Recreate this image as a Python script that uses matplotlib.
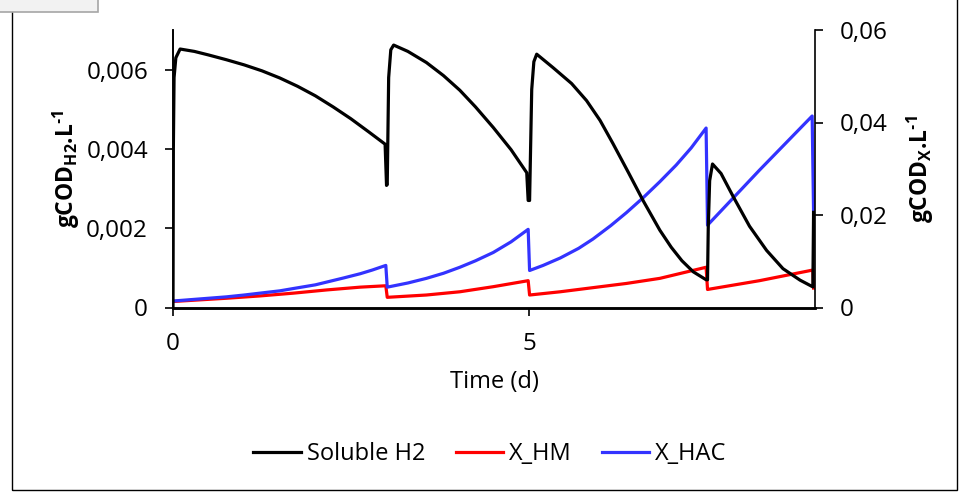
import matplotlib
matplotlib.use('Agg')
import matplotlib.pyplot as plt
import matplotlib.patches as patches

plt.rcParams['font.family'] = 'Open Sans'
plt.rcParams['mathtext.fontset'] = 'custom'
plt.rcParams['mathtext.rm'] = 'Open Sans'
plt.rcParams['mathtext.bf'] = 'Open Sans:bold'

# Soluble H2 (left axis)
t_h2 = [0.0, 0.005, 0.015, 0.04, 0.1, 0.3, 0.5, 0.75, 1.0, 1.25, 1.5, 1.75, 2.0, 2.25, 2.5, 2.75, 2.98,
        3.0, 3.01, 3.03, 3.06, 3.1, 3.3, 3.56, 3.8, 4.03, 4.25, 4.5, 4.75, 4.97,
        4.99, 5.01, 5.04, 5.07, 5.11, 5.34, 5.6, 5.81, 6.0, 6.18, 6.4, 6.61, 6.84, 7.0, 7.15, 7.31, 7.49,
        7.51, 7.52, 7.54, 7.58, 7.7, 7.87, 8.1, 8.34, 8.57, 8.81, 8.99, 9.0]
h2 = [0.0, 0.0040, 0.0058, 0.0063, 0.00652, 0.00646, 0.00637, 0.00625, 0.00612, 0.00597, 0.00579, 0.00558,
      0.00534, 0.00506, 0.00476, 0.00443, 0.00412,
      0.00308, 0.0031, 0.0058, 0.0065, 0.00662, 0.00646, 0.00618, 0.00585, 0.00548, 0.00506, 0.00454,
      0.00398, 0.00340,
      0.0027, 0.0027, 0.0055, 0.0062, 0.00639, 0.00605, 0.00565, 0.00522, 0.00472, 0.00414, 0.0034,
      0.00268, 0.00195, 0.00152, 0.00118, 0.0009, 0.0007,
      0.0007, 0.0020, 0.0032, 0.00362, 0.00338, 0.0028, 0.00205, 0.00144, 0.00098, 0.00069, 0.00052, 0.0024]

# X_HM (right axis)
t_hm = [0.0, 0.75, 1.22, 1.69, 2.16, 2.63, 2.99, 3.01, 3.56, 4.03, 4.5, 4.99, 5.01, 5.44, 6.37, 6.84,
        7.49, 7.51, 8.24, 8.99, 9.0]
hm = [0.0013, 0.0020, 0.0025, 0.0031, 0.0038, 0.0044, 0.0047, 0.0022, 0.0027, 0.0034, 0.0045, 0.0058,
      0.0027, 0.0034, 0.0052, 0.0063, 0.0087, 0.0039, 0.0058, 0.0081, 0.0042]

# X_HAC (right axis)
t_hac = [0.0, 0.5, 0.75, 1.0, 1.22, 1.5, 1.69, 2.0, 2.16, 2.4, 2.63, 2.8, 2.99,
         3.01, 3.3, 3.56, 3.8, 4.03, 4.25, 4.5, 4.75, 4.99,
         5.01, 5.2, 5.44, 5.7, 5.9, 6.15, 6.37, 6.61, 6.84, 7.07, 7.28, 7.49,
         7.51, 8.24, 8.98, 9.0]
hac = [0.0014, 0.0020, 0.0023, 0.0027, 0.0031, 0.0036, 0.0041, 0.0049, 0.0055, 0.0064, 0.0073, 0.0081, 0.0091,
       0.0044, 0.0053, 0.0063, 0.0074, 0.0087, 0.0101, 0.0119, 0.0142, 0.0169,
       0.0080, 0.0091, 0.0107, 0.0128, 0.0148, 0.0177, 0.0205, 0.0238, 0.0272, 0.0308, 0.0345, 0.0388,
       0.0178, 0.0297, 0.0414, 0.0204]

x_ticks = [0, 5]
y_left_ticks = [0, 0.002, 0.004, 0.006]
y_left_labels = ['0', '0,002', '0,004', '0,006']
y_right_ticks = [0, 0.02, 0.04, 0.06]
y_right_labels = ['0', '0,02', '0,04', '0,06']

W, H = 967, 493
fig = plt.figure(figsize=(W / 100, H / 100), dpi=100)
ax = fig.add_axes([173 / W, 1 - 307.5 / H, (815 - 173) / W, (307.5 - 30) / H])
ax2 = ax.twinx()

l1, = ax.plot(t_h2, h2, color='black', lw=2.3, label='Soluble H2', zorder=3)
l2, = ax2.plot(t_hm, hm, color='#ff0000', lw=2.3, label='X_HM')
l3, = ax2.plot(t_hac, hac, color='#3333ff', lw=2.3, label='X_HAC')
ax.set_zorder(ax2.get_zorder() + 1)
ax.patch.set_visible(False)

ax.set_xlim(0, 9.02)
ax.set_ylim(0, 0.007)
ax2.set_ylim(0, 0.06)
ax.set_xticks(x_ticks)
ax.set_xticklabels([str(v) for v in x_ticks])
ax.set_yticks(y_left_ticks)
ax.set_yticklabels(y_left_labels)
ax2.set_yticks(y_right_ticks)
ax2.set_yticklabels(y_right_labels)

for a in (ax, ax2):
    a.spines['top'].set_visible(False)
    a.spines['left'].set_linewidth(1.2)
    a.spines['right'].set_linewidth(1.2)
    a.spines['bottom'].set_linewidth(1.8)
    a.tick_params(labelsize=17.5, length=6, width=1.2, pad=12)
ax.spines['right'].set_visible(False)

ax.set_xlabel('Time (d)', fontsize=17, labelpad=10)
ax.set_ylabel('gCOD$_{\\mathbf{H2}}$.L$^{\\mathbf{\u2010 1}}$', fontsize=16.5, fontweight='bold', labelpad=3)
ax2.set_ylabel('gCOD$_{\\mathbf{X}}$.L$^{\\mathbf{\u2010 1}}$', fontsize=16.5, fontweight='bold', labelpad=12)

fig.legend(handles=[l1, l2, l3], loc='center', bbox_to_anchor=(490 / W, 1 - 454 / H), ncol=3,
           frameon=False, fontsize=17, handlelength=2.0, handletextpad=0.25, columnspacing=1.3)

# outer chart frame and the grey box in the corner
fig.add_artist(patches.Rectangle((12 / W, 1 - 490 / H), (957 - 12) / W, 495 / H, transform=fig.transFigure,
                                 fill=False, ec='black', lw=1.0))
fig.add_artist(patches.Rectangle((-0.01, 1 - 11.5 / H), 98 / W + 0.01, 0.05, transform=fig.transFigure,
                                 fc='#f2f2f2', ec='#a6a6a6', lw=1.2))

fig.savefig('out.png', dpi=100)
